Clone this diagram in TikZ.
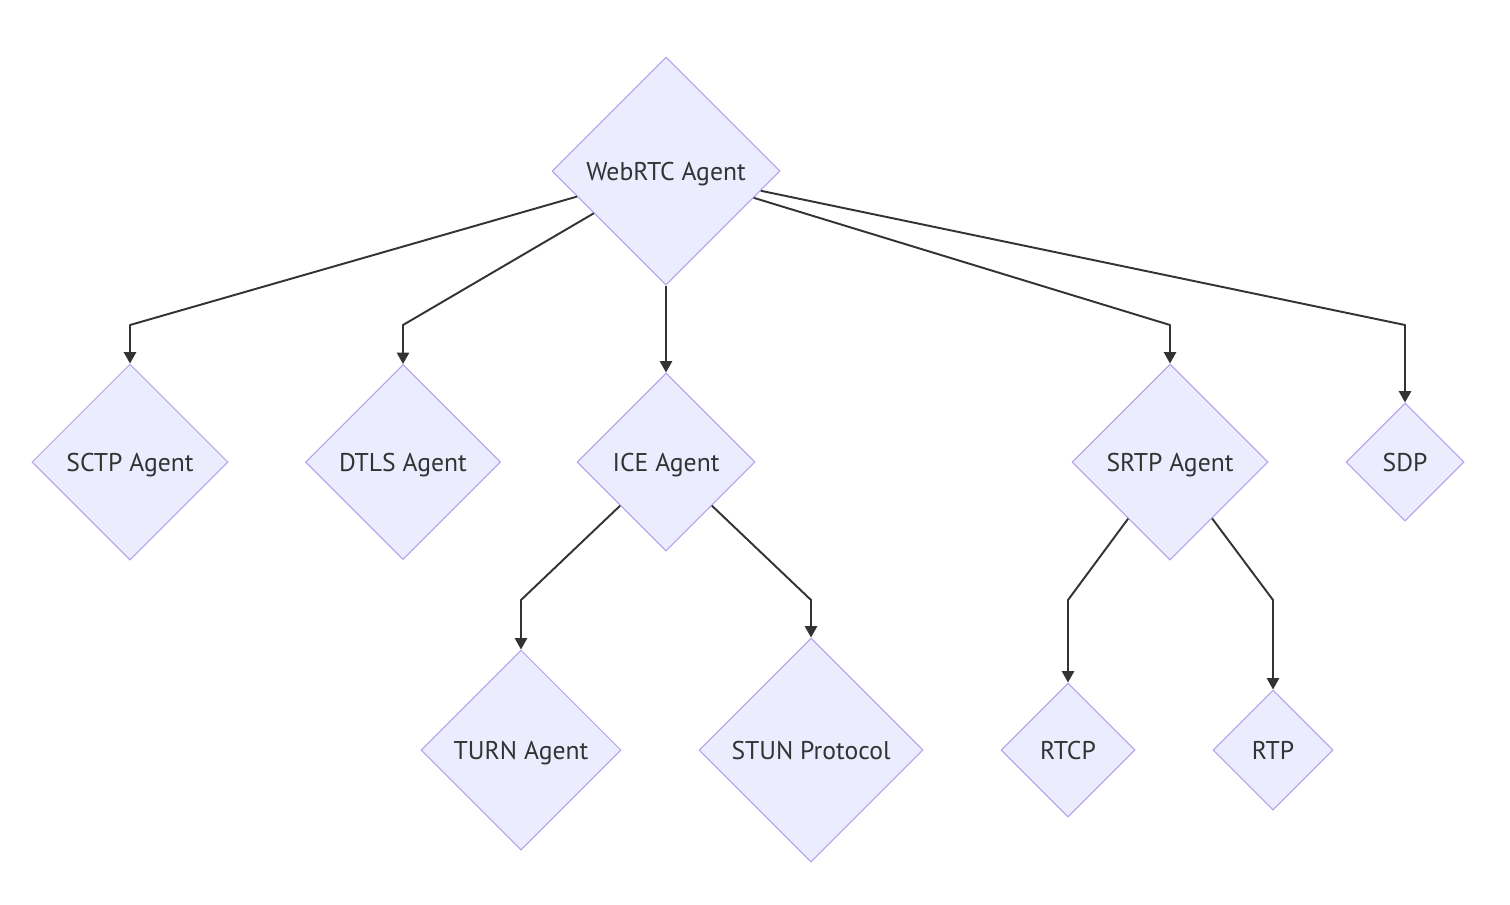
\documentclass[tikz,border=0pt]{standalone}
\usepackage{fontspec}
\setmainfont{PT Sans}
\usetikzlibrary{arrows.meta,shapes.geometric}
\definecolor{nodefill}{HTML}{ECECFF}
\definecolor{nodeline}{HTML}{B4A0EA}
\definecolor{linkgray}{HTML}{333333}
\tikzset{
  decision/.style={
    diamond,
    aspect=1,
    draw=nodeline,
    fill=nodefill,
    line width=0.6pt,
    inner sep=0pt,
    text=linkgray,
    text depth=0pt,
    font=\fontsize{14.6}{17}\selectfont
  },
  link/.style={
    draw=linkgray,
    line width=1.1pt,
    line join=round,
    -{Triangle[length=6.5pt,width=7pt]}
  }
}

\begin{document}
\begin{tikzpicture}[x=0.02cm,y=-0.02cm]
  \useasboundingbox (0,0) rectangle (1510,904);
  % diamonds
  \node[decision, minimum width=4.56cm, minimum height=4.56cm] (web) at (666,171) {WebRTC Agent};
  \node[decision, minimum width=3.92cm, minimum height=3.92cm] (sctp) at (130,462) {SCTP Agent};
  \node[decision, minimum width=3.9cm, minimum height=3.9cm] (dtls) at (403,462) {DTLS Agent};
  \node[decision, minimum width=3.56cm, minimum height=3.56cm] (ice) at (666,462) {ICE Agent};
  \node[decision, minimum width=3.92cm, minimum height=3.92cm] (srtp) at (1170,462) {SRTP Agent};
  \node[decision, minimum width=2.36cm, minimum height=2.36cm] (sdp) at (1405,462) {SDP};
  \node[decision, minimum width=4cm, minimum height=4cm] (turn) at (521,750) {TURN Agent};
  \node[decision, minimum width=4.48cm, minimum height=4.48cm] (stun) at (811,750) {STUN Protocol};
  \node[decision, minimum width=2.68cm, minimum height=2.68cm] (rtcp) at (1068,750) {RTCP};
  \node[decision, minimum width=2.4cm, minimum height=2.4cm] (rtp) at (1273,750) {RTP};
  % bends
  \coordinate (sctp-bend) at (130,325);
  \coordinate (dtls-bend) at (403,325);
  \coordinate (srtp-bend) at (1170,325);
  \coordinate (sdp-bend) at (1405,325);
  \coordinate (turn-bend) at (521,600);
  \coordinate (stun-bend) at (811,600);
  \coordinate (rtcp-bend) at (1068,600);
  \coordinate (rtp-bend) at (1273,600);
  % links
  \foreach \p/\c in {web/sctp,web/dtls,web/srtp,web/sdp,ice/turn,ice/stun,srtp/rtcp,srtp/rtp} {
    \draw[link] (\p) -- (\c-bend) -- (\c);
  }
  \draw[link] (web) -- (ice);
\end{tikzpicture}
\end{document}
